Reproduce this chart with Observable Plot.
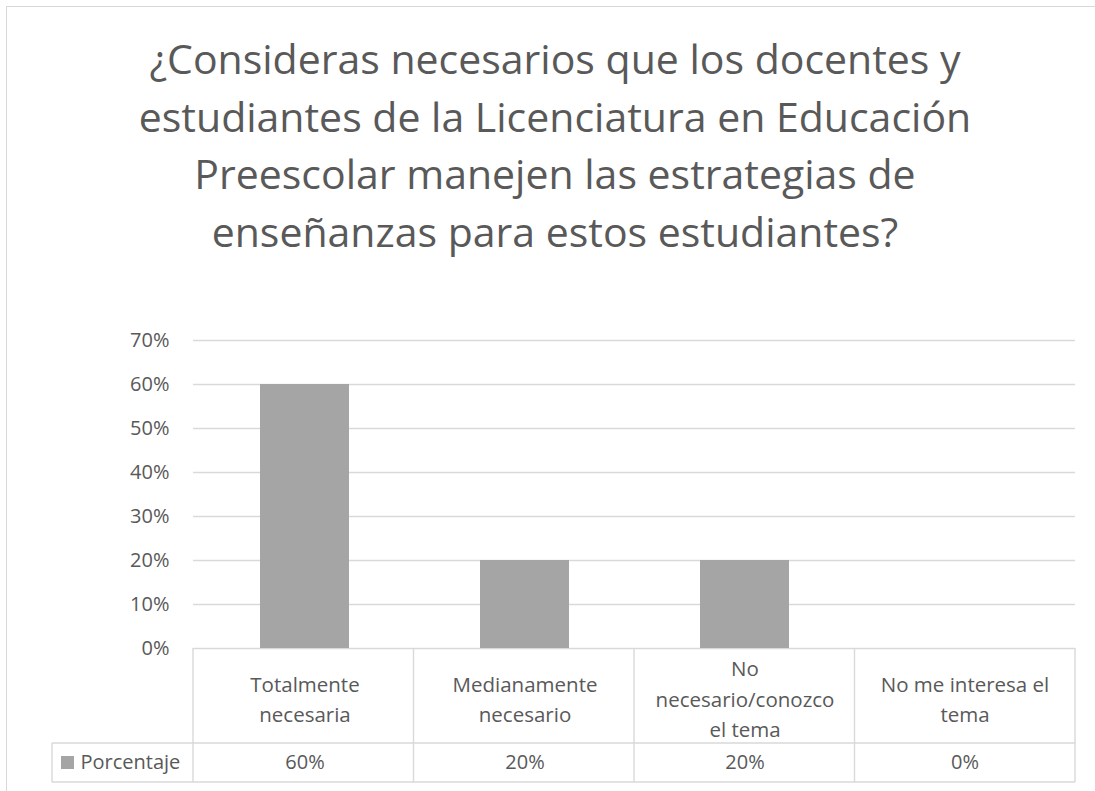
<!DOCTYPE html>
<html>
<head>
<meta charset="utf-8">
<script src="https://cdn.jsdelivr.net/npm/d3@7"></script>
<script src="https://cdn.jsdelivr.net/npm/@observablehq/plot@0.6"></script>
<style>
  html, body { margin: 0; padding: 0; background: #fff; }
  #wrap { position: relative; width: 1095px; height: 791px; overflow: hidden; background: #fff; font-family: "Open Sans", sans-serif; }
  #frame { position: absolute; left: 6px; top: 6px; width: 1300px; height: 1000px; border: 1.5px solid #d9d9d9; box-sizing: border-box; }
  #title { position: absolute; left: 6px; top: 30px; width: 1098px; text-align: center; color: #595959; font-size: 41px; line-height: 57.7px; }
  #chart { position: absolute; left: 0; top: 300px; }
</style>
</head>
<body>
<div id="wrap">
  <div id="frame"></div>
  <div id="title"></div>
  <div id="chart"></div>
</div>
<script>
const titleLines = [
  "¿Consideras necesarios que los docentes y",
  "estudiantes de la Licenciatura en Educación",
  "Preescolar manejen las estrategias de",
  "enseñanzas para estos estudiantes?"
];
const categories = [
  "Totalmente necesaria",
  "Medianamente necesario",
  "No necesario/conozco el tema",
  "No me interesa el tema"
];
const categoryLabels = [
  "Totalmente\nnecesaria",
  "Medianamente\nnecesario",
  "No\nnecesario/conozco\nel tema",
  "No me interesa el\ntema"
];
const values = [0.60, 0.20, 0.20, 0.00];
const valueLabels = ["60%", "20%", "20%", "0%"];
const seriesName = "Porcentaje";
const yTicks = [0, 0.1, 0.2, 0.3, 0.4, 0.5, 0.6, 0.7];

document.getElementById("title").innerHTML = titleLines.map(l => `<div>${l}</div>`).join("");

const data = categories.map((c, i) => ({category: c, label: categoryLabels[i], value: values[i], valueLabel: valueLabels[i]}));

const textColor = "#595959";
const gridColor = "#d9d9d9";
const barColor = "#a5a5a5";

const W = 1095, H = 491;
const mTop = 40, mBottom = 143, mLeft = 193, mRight = 20;
const row1 = 95, row2 = 39; // table row heights

const plot = Plot.plot({
  width: W,
  height: H,
  marginTop: mTop,
  marginBottom: mBottom,
  marginLeft: mLeft,
  marginRight: mRight,
  style: { fontFamily: "Open Sans, sans-serif", fontSize: "20px", color: textColor, background: "transparent", overflow: "visible" },
  x: { domain: categories, paddingInner: 0.596, paddingOuter: 0.298, axis: null },
  y: { domain: [0, 0.7], axis: null },
  marks: [
    Plot.ruleY(yTicks, { stroke: gridColor, strokeWidth: 1.4 }),
    Plot.axisY(yTicks, { tickFormat: d3.format(".0%"), tickSize: 0, tickPadding: 24, fontSize: 20, fill: textColor, label: null }),
    Plot.barY(data, { x: "category", y: "value", fill: barColor }),
    Plot.text(data, { x: "category", text: "label", frameAnchor: "bottom", dy: row1 / 2 + 1, lineAnchor: "middle", lineHeight: 1.48, fill: textColor, fontSize: 20.5 }),
    Plot.text(data, { x: "category", text: "valueLabel", frameAnchor: "bottom", dy: row1 + row2 / 2, lineAnchor: "middle", fill: textColor, fontSize: 20 }),
    Plot.text([seriesName], { text: d => d, frameAnchor: "bottom-left", dx: 80 - mLeft, dy: row1 + row2 / 2, textAnchor: "start", lineAnchor: "middle", fill: textColor, fontSize: 20 })
  ]
});

// table grid drawn from Plot's x scale
const xs = plot.scale("x");
const r0 = xs.range[0], r1 = xs.range[1];
const step = (r1 - r0) / categories.length;
const edges = d3.range(categories.length + 1).map(i => r0 + i * step);
const svg = d3.select(plot);
const y0 = H - mBottom, yMid = y0 + row1, yEnd = yMid + row2;
const legendLeft = 52;
const g = svg.append("g").attr("stroke", gridColor).attr("stroke-width", 1.4).attr("fill", "none");
edges.forEach(e => g.append("line").attr("x1", e).attr("x2", e).attr("y1", y0).attr("y2", yEnd));
g.append("line").attr("x1", legendLeft).attr("x2", legendLeft).attr("y1", yMid).attr("y2", yEnd);
g.append("line").attr("x1", legendLeft).attr("x2", r1).attr("y1", yMid).attr("y2", yMid);
g.append("line").attr("x1", legendLeft).attr("x2", r1).attr("y1", yEnd).attr("y2", yEnd);
svg.append("rect").attr("x", 61).attr("y", yMid + row2 / 2 - 6.5).attr("width", 13).attr("height", 13).attr("fill", barColor);

document.getElementById("chart").appendChild(plot);
</script>
</body>
</html>
